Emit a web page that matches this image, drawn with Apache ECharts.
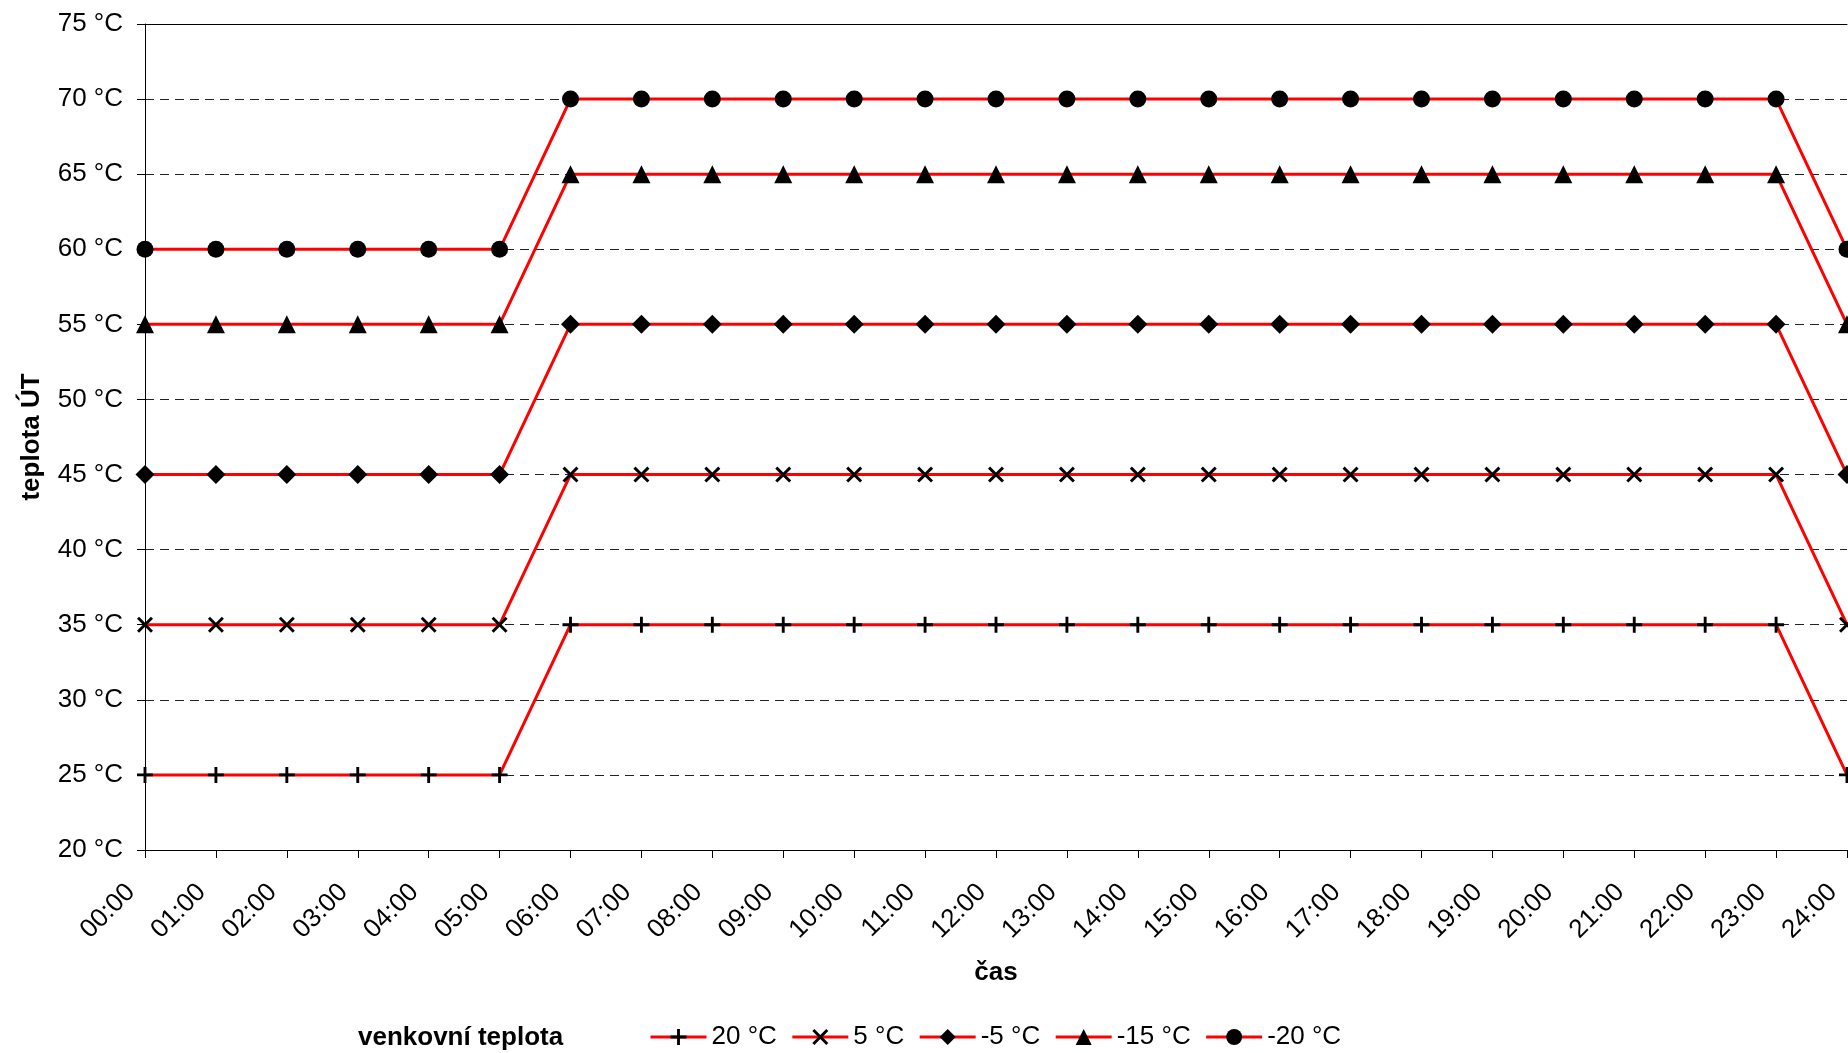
<!DOCTYPE html>
<html>
<head>
<meta charset="utf-8">
<script src="https://cdn.jsdelivr.net/npm/echarts@6/dist/echarts.min.js"></script>
<style>
html,body{margin:0;padding:0;background:#fff;overflow:hidden;}
#chart{width:1848px;height:1053px;}
</style>
</head>
<body>
<div id="chart"></div>
<script>
var hours = ['00:00','01:00','02:00','03:00','04:00','05:00','06:00','07:00','08:00','09:00','10:00','11:00','12:00','13:00','14:00','15:00','16:00','17:00','18:00','19:00','20:00','21:00','22:00','23:00','24:00'];
var seriesNames = ['20 °C','5 °C','-5 °C','-15 °C','-20 °C'];
var t20  = [25,25,25,25,25,25,35,35,35,35,35,35,35,35,35,35,35,35,35,35,35,35,35,35,25];
var t5   = [35,35,35,35,35,35,45,45,45,45,45,45,45,45,45,45,45,45,45,45,45,45,45,45,35];
var tm5  = [45,45,45,45,45,45,55,55,55,55,55,55,55,55,55,55,55,55,55,55,55,55,55,55,45];
var tm15 = [55,55,55,55,55,55,65,65,65,65,65,65,65,65,65,65,65,65,65,65,65,65,65,65,55];
var tm20 = [60,60,60,60,60,60,70,70,70,70,70,70,70,70,70,70,70,70,70,70,70,70,70,70,60];
var yMin = 20, yMax = 75, yStep = 5;

var FONT = '"Liberation Sans", Arial, sans-serif';
var PLUS = 'path://M8.2,0H11.8V8.2H20V11.8H11.8V20H8.2V11.8H0V8.2H8.2Z';
var CROSS = 'path://M0,2.6L2.6,0L10,7.4L17.4,0L20,2.6L12.6,10L20,17.4L17.4,20L10,12.6L2.6,20L0,17.4L7.4,10Z';

function mk(name, data, symbol, size) {
  return {
    name: name, type: 'line', data: data,
    symbol: symbol, symbolSize: size, symbolKeepAspect: true,
    showAllSymbol: true,
    lineStyle: {color: '#ff0000', width: 3},
    itemStyle: {color: '#000', borderWidth: 0},
    emphasis: {disabled: true},
    clip: false
  };
}

var chart = echarts.init(document.getElementById('chart'), null, {renderer: 'canvas'});
chart.setOption({
  animation: false,
  backgroundColor: '#fff',
  textStyle: {fontFamily: FONT},
  grid: {left: 145, top: 24, right: 1, bottom: 203, containLabel: false, outerBoundsMode: 'none'},
  legend: {
    left: 644, top: 1019,
    itemWidth: 56, itemHeight: 20, itemGap: 14,
    lineStyle: {width: 3},
    textStyle: {fontFamily: FONT, fontSize: 26, color: '#000'},
    data: seriesNames,
    selectedMode: false
  },
  graphic: [{
    type: 'text', left: 358, top: 1025,
    style: {text: 'venkovní teplota', font: 'bold 26px ' + FONT, fill: '#000'}
  }],
  xAxis: [{
    type: 'category', data: hours, boundaryGap: false,
    name: 'čas', nameLocation: 'middle', nameGap: 110,
    nameTextStyle: {fontFamily: FONT, fontSize: 26, fontWeight: 'bold', color: '#000'},
    axisLine: {show: true, lineStyle: {color: '#000', width: 1}},
    axisTick: {show: true, inside: false, length: 8, alignWithLabel: true, lineStyle: {color: '#000'}},
    axisLabel: {rotate: 45, margin: 24, padding: [0, 20, 0, 0], fontFamily: FONT, fontSize: 26, color: '#000', interval: 0},
    splitLine: {show: false}
  }, {
    type: 'category', data: hours, boundaryGap: false, position: 'top',
    axisLine: {show: true, onZero: false, lineStyle: {color: '#000', width: 1}},
    axisTick: {show: false}, axisLabel: {show: false}, splitLine: {show: false}
  }],
  yAxis: {
    type: 'value', min: yMin, max: yMax, interval: yStep,
    name: 'teplota ÚT', nameLocation: 'middle', nameGap: 100,
    nameTextStyle: {fontFamily: FONT, fontSize: 26, fontWeight: 'bold', color: '#000'},
    axisLine: {show: true, lineStyle: {color: '#000', width: 1}},
    axisTick: {show: true, inside: false, length: 8, lineStyle: {color: '#000'}},
    axisLabel: {formatter: '{value} °C', margin: 22, fontFamily: FONT, fontSize: 26, color: '#000'},
    splitLine: {show: true, lineStyle: {color: '#222', type: [9, 6], width: 1}}
  },
  series: [
    mk(seriesNames[0], t20, PLUS, 16),
    mk(seriesNames[1], t5, CROSS, 16),
    mk(seriesNames[2], tm5, 'diamond', 19),
    mk(seriesNames[3], tm15, 'triangle', 18),
    mk(seriesNames[4], tm20, 'circle', 17)
  ]
});
</script>
</body>
</html>
